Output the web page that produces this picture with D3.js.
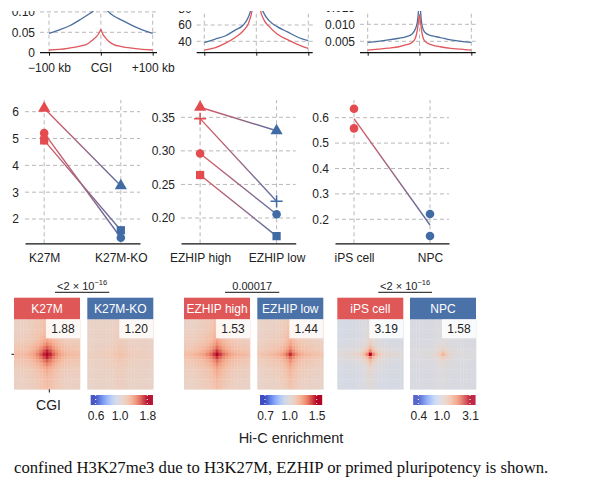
<!DOCTYPE html>
<html>
<head>
<meta charset="utf-8">
<script src="https://cdn.jsdelivr.net/npm/d3@7"></script>
<style>
  body { margin: 0; background: #fff; }
  svg { display: block; font-family: "Liberation Sans", Arial, sans-serif; }
</style>
</head>
<body>
<script>
// ---------- data ----------
// top row: aggregate profiles around CGIs (kb from centre)
var kb = [-100, -80, -60, -40, -25, -15, -8, -4, -2, 0, 2, 4, 8, 15, 25, 40, 60, 80, 100];
var prof1Blue = [0.0475, 0.056, 0.066, 0.081, 0.093, 0.102, 0.115, 0.13, 0.14, 0.15, 0.14, 0.13, 0.113, 0.1, 0.09, 0.08, 0.067, 0.056, 0.0475];
var prof1Red  = [0.0066, 0.008, 0.0115, 0.016, 0.022, 0.032, 0.040, 0.047, 0.052, 0.057, 0.051, 0.045, 0.038, 0.028, 0.02, 0.015, 0.011, 0.008, 0.0066];
var prof2Blue = [38.3, 42.5, 46.5, 54, 60, 70, 85, 100, 110, 120, 110, 100, 85, 74, 65, 58, 51.5, 45, 40.7];
var prof2Red  = [29.3, 32, 37.5, 45, 53, 62, 78, 95, 105, 115, 105, 95, 78, 66, 58, 49, 42, 36, 31.4];
var prof3Blue = [0.0047, 0.0050, 0.0054, 0.0059, 0.0064, 0.0071, 0.0086, 0.0108, 0.014, 0.02, 0.014, 0.0105, 0.0082, 0.0071, 0.0066, 0.0061, 0.0054, 0.0050, 0.0047];
var prof3Red  = [0.0024, 0.0027, 0.0030, 0.0034, 0.0040, 0.0046, 0.0059, 0.0085, 0.0108, 0.0128, 0.0105, 0.0082, 0.0056, 0.0045, 0.0039, 0.0034, 0.0029, 0.0027, 0.0024];
var profTicks1 = [0, 0.05, 0.10];
var profTicks2 = [40, 60, 80];
var profTicks3 = [0.005, 0.010, 0.015];
var kbTickLabels = ["\u2212100 kb", "CGI", "+100 kb"];

// middle row: paired comparisons
var catsA = ["K27M", "K27M-KO"];
var aTriangle = [6.13, 3.24];
var aCircle   = [5.2, 1.3];
var aSquare   = [4.93, 1.58];
var ticksA = [2, 3, 4, 5, 6];

var catsB = ["EZHIP high", "EZHIP low"];
var bTriangle = [0.365, 0.33];
var bPlus     = [0.348, 0.225];
var bCircle   = [0.296, 0.2055];
var bSquare   = [0.264, 0.173];
var ticksB = [0.20, 0.25, 0.30, 0.35];

var catsC = ["iPS cell", "NPC"];
var cIPS = [0.635, 0.558];
var cNPC = [0.221, 0.134];
var ticksC = [0.2, 0.3, 0.4, 0.5, 0.6];

// bottom row: Hi-C aggregate peaks
var heatNames = ["K27M", "K27M-KO", "EZHIP high", "EZHIP low", "iPS cell", "NPC"];
var heatScores = [1.88, 1.20, 1.53, 1.44, 3.19, 1.58];
var heatBase = [1.07, 1.06, 1.03, 1.03, 0.9, 0.94];
var heatProfiles = [
  [1, .85, .68, .54, .43, .35, .30, .27, .25, .24, .23],
  [1, .88, .74, .64, .57, .52, .48, .46, .44, .42, .40],
  [1, .82, .66, .55, .47, .41, .37, .34, .31, .29, .27],
  [1, .78, .62, .51, .44, .39, .35, .32, .29, .27, .25],
  [1, .62, .40, .27, .20, .17, .15, .13, .12, .11, .10],
  [1, .60, .36, .22, .15, .12, .10, .09, .08, .07, .07]
];
var pLabels = ["<2 \u00d7 10^\u221216", "0.00017", "<2 \u00d7 10^\u221216"];
var cbTicks = [[0.6, 1.0, 1.8], [0.7, 1.0, 1.5], [0.4, 1.0, 3.1]];

// ---------- setup ----------
var W = 589, H = 489;
var red = "#e34b4f", blue = "#416ba5";
var lineRed = "#e0575c", lineBlue = "#4a6e9e";
var gridCol = "#b8b8b8";

var svg = d3.select("body").append("svg")
    .attr("width", W)
    .attr("height", H);
var defs = svg.append("defs");

defs.append("clipPath").attr("id", "topclip")
    .append("rect").attr("x", 0).attr("y", 11).attr("width", W).attr("height", 80);

// ---------- top row ----------
var topG = svg.append("g").attr("clip-path", "url(#topclip)");
var topPanels = [
  { x: [49, 152.7], line: [40, 157], yd: [0, 0.05], yr: [52.7, 32.3], ticks: profTicks1, fmt: function (d) { return d === 0 ? "0" : d3.format(".2f")(d); }, blue: prof1Blue, red: prof1Red, labels: true },
  { x: [204.3, 308.3], line: [196.7, 312.7], yd: [40, 60], yr: [41.3, 25], ticks: profTicks2, fmt: d3.format("d"), blue: prof2Blue, red: prof2Red, labels: false },
  { x: [367.7, 471.3], line: [360, 475.7], yd: [0.005, 0.010], yr: [41.3, 24.3], ticks: profTicks3, fmt: d3.format(".3f"), blue: prof3Blue, red: prof3Red, labels: false }
];
var axisY = 52.7;

topPanels.forEach(function (p) {
    var x = d3.scaleLinear().domain([-100, 100]).range(p.x);
    var y = d3.scaleLinear().domain(p.yd).range(p.yr);
    var g = topG.append("g");

    // grid
    g.selectAll(".hg").data(p.ticks.filter(function (d) { return y(d) < axisY - 1; })).enter()
        .append("line")
        .attr("x1", p.line[0]).attr("x2", p.line[1])
        .attr("y1", function (d) { return y(d); }).attr("y2", function (d) { return y(d); })
        .attr("stroke", gridCol).attr("stroke-dasharray", "4,3");
    g.selectAll(".vg").data([-100, 0, 100]).enter()
        .append("line")
        .attr("x1", function (d) { return x(d); }).attr("x2", function (d) { return x(d); })
        .attr("y1", axisY).attr("y2", 0)
        .attr("stroke", gridCol).attr("stroke-dasharray", "4,3");

    // y labels
    var ya = g.append("g").attr("transform", "translate(" + p.line[0] + ",0)")
        .call(d3.axisLeft(y).tickValues(p.ticks).tickFormat(p.fmt).tickSize(0).tickPadding(5));
    ya.select(".domain").remove();
    ya.selectAll("text").attr("font-size", 12).attr("fill", "#222").attr("font-family", null);

    // x axis
    var xa = g.append("g").attr("transform", "translate(0," + axisY + ")")
        .call(d3.axisBottom(x).tickValues([-100, 0, 100]).tickSize(3).tickPadding(8)
            .tickFormat(function (d, i) { return p.labels ? kbTickLabels[i] : ""; }));
    xa.select(".domain").remove();
    xa.selectAll("line").attr("stroke", "#111");
    xa.selectAll("text").attr("font-size", 12).attr("fill", "#222").attr("font-family", null);
    g.append("line").attr("x1", p.line[0]).attr("x2", p.line[1])
        .attr("y1", axisY).attr("y2", axisY).attr("stroke", "#111").attr("stroke-width", 1.2);

    var line = d3.line()
        .x(function (d, i) { return x(kb[i]); })
        .y(function (d) { return y(d); })
        .curve(d3.curveMonotoneX);
    g.append("path").datum(p.blue).attr("d", line)
        .attr("fill", "none").attr("stroke", lineBlue).attr("stroke-width", 1.3);
    g.append("path").datum(p.red).attr("d", line)
        .attr("fill", "none").attr("stroke", lineRed).attr("stroke-width", 1.3);
});

// ---------- middle row ----------
function symbolPath(shape) {
    if (shape === "plus") return "M-6,0H6M0,-6V6";
    var types = { triangle: d3.symbolTriangle, circle: d3.symbolCircle, square: d3.symbolSquare };
    var sizes = { triangle: 64, circle: 58, square: 68 };
    return d3.symbol().type(types[shape]).size(sizes[shape])();
}

var midAxisY = 243.3, midTop = 100;
var midPanels = [
  { cats: catsA, range: [25, 140], yd: [2, 6], yr: [219, 111.7], ticks: ticksA, fmt: d3.format("d"),
    series: [{ shape: "triangle", v: aTriangle }, { shape: "square", v: aSquare }, { shape: "circle", v: aCircle }] },
  { cats: catsB, range: [181, 295.7], yd: [0.20, 0.35], yr: [218, 117.3], ticks: ticksB, fmt: d3.format(".2f"),
    series: [{ shape: "triangle", v: bTriangle }, { shape: "plus", v: bPlus }, { shape: "circle", v: bCircle }, { shape: "square", v: bSquare }] },
  { cats: catsC, range: [335, 449], yd: [0.2, 0.6], yr: [219.3, 117.7], ticks: ticksC, fmt: d3.format(".1f"), groups: [cIPS, cNPC] }
];

midPanels.forEach(function (p, pi) {
    var x = d3.scalePoint().domain(p.cats).range(p.range).padding(0.25);
    var y = d3.scaleLinear().domain(p.yd).range(p.yr);
    var g = svg.append("g");

    g.selectAll(".hg").data(p.ticks).enter().append("line")
        .attr("x1", p.range[0]).attr("x2", p.range[1])
        .attr("y1", function (d) { return y(d); }).attr("y2", function (d) { return y(d); })
        .attr("stroke", gridCol).attr("stroke-dasharray", "4,3");
    g.selectAll(".vg").data(p.cats).enter().append("line")
        .attr("x1", function (d) { return x(d); }).attr("x2", function (d) { return x(d); })
        .attr("y1", midAxisY).attr("y2", midTop)
        .attr("stroke", gridCol).attr("stroke-dasharray", "4,3");

    var ya = g.append("g").attr("transform", "translate(" + p.range[0] + ",0)")
        .call(d3.axisLeft(y).tickValues(p.ticks).tickFormat(p.fmt).tickSize(0).tickPadding(6));
    ya.select(".domain").remove();
    ya.selectAll("text").attr("font-size", 12).attr("fill", "#222").attr("font-family", null);

    var xa = g.append("g").attr("transform", "translate(0," + midAxisY + ")")
        .call(d3.axisBottom(x).tickSize(0).tickSizeOuter(0).tickPadding(10));
    xa.select(".domain").attr("stroke", "#111").attr("stroke-width", 1.2);
    xa.selectAll("text").attr("font-size", 12).attr("fill", "#222").attr("font-family", null);

    var gid = "grad" + pi;
    var grad = defs.append("linearGradient").attr("id", gid)
        .attr("gradientUnits", "userSpaceOnUse")
        .attr("x1", x(p.cats[0])).attr("x2", x(p.cats[1])).attr("y1", 0).attr("y2", 0);
    grad.append("stop").attr("offset", 0).attr("stop-color", "#dc5a62");
    grad.append("stop").attr("offset", 1).attr("stop-color", "#5a6fa0");

    if (p.series) {
        p.series.forEach(function (s) {
            g.append("line")
                .attr("x1", x(p.cats[0])).attr("y1", y(s.v[0]))
                .attr("x2", x(p.cats[1])).attr("y2", y(s.v[1]))
                .attr("stroke", "url(#" + gid + ")").attr("stroke-width", 1.4);
        });
        p.series.forEach(function (s) {
            s.v.forEach(function (v, i) {
                var col = i === 0 ? red : blue;
                var m = g.append("path").attr("d", symbolPath(s.shape))
                    .attr("transform", "translate(" + x(p.cats[i]) + "," + y(v) + ")");
                if (s.shape === "plus") m.attr("fill", "none").attr("stroke", col).attr("stroke-width", 1.5);
                else m.attr("fill", col);
            });
        });
    } else {
        var means = p.groups.map(function (a) { return d3.mean(a); });
        g.append("line")
            .attr("x1", x(p.cats[0])).attr("y1", y(means[0]))
            .attr("x2", x(p.cats[1])).attr("y2", y(means[1]))
            .attr("stroke", "url(#" + gid + ")").attr("stroke-width", 1.4);
        p.groups.forEach(function (arr, i) {
            g.selectAll(null).data(arr).enter().append("path")
                .attr("d", symbolPath("circle"))
                .attr("transform", function (d) { return "translate(" + x(p.cats[i]) + "," + y(d) + ")"; })
                .attr("fill", i === 0 ? red : blue);
        });
    }
});

// ---------- bottom row ----------
var coolwarm = d3.interpolateRgbBasis(["#3b4cc0", "#6788ee", "#9abbff", "#c9d7f0", "#dddcdc", "#f2cbb7", "#f7a889", "#e26952", "#b40426"]);
var heatX = [14, 87.3, 184, 257.3, 337.3, 410];
var heatW = 66, headTop = 297.7, headH = 21.6, heatTop = 319.3, heatH = 70;
var nCell = 21, half = 10;
var cbX = [[90.7, 152.3], [260, 321.7], [413.3, 475]];
var cbY = 395, cbH = 10;

for (var gi = 0; gi < 3; gi++) {
    var ticks = cbTicks[gi];
    var tScale = d3.scaleLog().domain([ticks[0], 1, ticks[2]]).range([0, 0.5, 1]).clamp(true);
    var color = function (v) { return coolwarm(tScale(v)); };

    // p-value bracket
    var xa0 = heatX[gi * 2] + 41, xa1 = heatX[gi * 2 + 1] + 22;
    svg.append("line").attr("x1", xa0).attr("x2", xa1).attr("y1", 292.3).attr("y2", 292.3)
        .attr("stroke", "#111").attr("stroke-width", 1);
    var parts = pLabels[gi].split("^");
    var pt = svg.append("text").attr("x", (xa0 + xa1) / 2).attr("y", 290)
        .attr("text-anchor", "middle").attr("font-size", 11).attr("fill", "#222");
    pt.append("tspan").text(parts[0]);
    if (parts[1]) pt.append("tspan").attr("dy", -5).attr("font-size", 7.5).text(parts[1]);

    for (var k = 0; k < 2; k++) {
        var hi = gi * 2 + k;
        var hx = heatX[hi];
        var bx = d3.scaleBand().domain(d3.range(nCell)).range([hx, hx + heatW]);
        var by = d3.scaleBand().domain(d3.range(nCell)).range([heatTop, heatTop + heatH]);
        var prof = heatProfiles[hi], base = heatBase[hi], peak = heatScores[hi];
        var cells = [];
        d3.range(nCell).forEach(function (r) {
            d3.range(nCell).forEach(function (c) {
                var w = prof[Math.abs(r - half)] * prof[Math.abs(c - half)];
                cells.push({ r: r, c: c, v: base * Math.pow(peak / base, w) });
            });
        });
        svg.append("g").selectAll("rect").data(cells).enter().append("rect")
            .attr("x", function (d) { return bx(d.c); })
            .attr("y", function (d) { return by(d.r); })
            .attr("width", bx.bandwidth() + 0.3)
            .attr("height", by.bandwidth() + 0.3)
            .attr("fill", function (d) { return color(d.v); });

        svg.append("rect").attr("x", hx).attr("y", headTop).attr("width", heatW).attr("height", headH)
            .attr("fill", k === 0 ? "#e05757" : "#4a72a8");
        svg.append("text").attr("x", hx + heatW / 2).attr("y", headTop + headH / 2 + 4.3)
            .attr("text-anchor", "middle").attr("font-size", 12).attr("fill", "#fff").text(heatNames[hi]);

        svg.append("rect").attr("x", hx + heatW - 34).attr("y", heatTop).attr("width", 34).attr("height", 19)
            .attr("fill", "#fff").attr("fill-opacity", 0.85);
        svg.append("text").attr("x", hx + heatW - 17).attr("y", heatTop + 14)
            .attr("text-anchor", "middle").attr("font-size", 12).attr("fill", "#222").text(d3.format(".2f")(peak));
    }

    // colour bar (log scale)
    var cx = d3.scaleLog().domain([ticks[0], ticks[2]]).range([cbX[gi][0] + 5, cbX[gi][1] - 5]);
    var steps = d3.range(cbX[gi][0], cbX[gi][1], 1);
    svg.append("g").selectAll("rect").data(steps).enter().append("rect")
        .attr("x", function (d) { return d; }).attr("y", cbY)
        .attr("width", 1.2).attr("height", cbH)
        .attr("fill", function (d) { return color(cx.invert(d + 0.5)); });
    [ticks[0], ticks[2]].forEach(function (t) {
        svg.append("line").attr("x1", cx(t)).attr("x2", cx(t)).attr("y1", cbY).attr("y2", cbY + cbH)
            .attr("stroke", "#fff").attr("stroke-dasharray", "1,3").attr("stroke-width", 1);
    });
    var ca = svg.append("g").attr("transform", "translate(0," + (cbY + cbH) + ")")
        .call(d3.axisBottom(cx).tickValues(ticks).tickFormat(d3.format(".1f")).tickSize(0).tickPadding(6));
    ca.select(".domain").remove();
    ca.selectAll("text").attr("font-size", 12).attr("fill", "#222").attr("font-family", null);
}

// CGI ticks on first heatmap
svg.append("line").attr("x1", 11.5).attr("x2", 14).attr("y1", 354.3).attr("y2", 354.3).attr("stroke", "#111");
svg.append("line").attr("x1", 49.3).attr("x2", 49.3).attr("y1", 389.3).attr("y2", 392.5).attr("stroke", "#111");
svg.append("text").attr("x", 48.5).attr("y", 409.5).attr("text-anchor", "middle")
    .attr("font-size", 14).attr("fill", "#222").text("CGI");

svg.append("text").attr("x", 291).attr("y", 443).attr("text-anchor", "middle")
    .attr("font-size", 14.5).attr("fill", "#222").text("Hi-C enrichment");

svg.append("text").attr("x", 14).attr("y", 472.7)
    .attr("font-family", "'Liberation Serif', 'DejaVu Serif', serif")
    .attr("font-size", 16.7).attr("fill", "#111")
    .text("confined H3K27me3 due to H3K27M, EZHIP or primed pluripotency is shown.");
</script>
</body>
</html>
